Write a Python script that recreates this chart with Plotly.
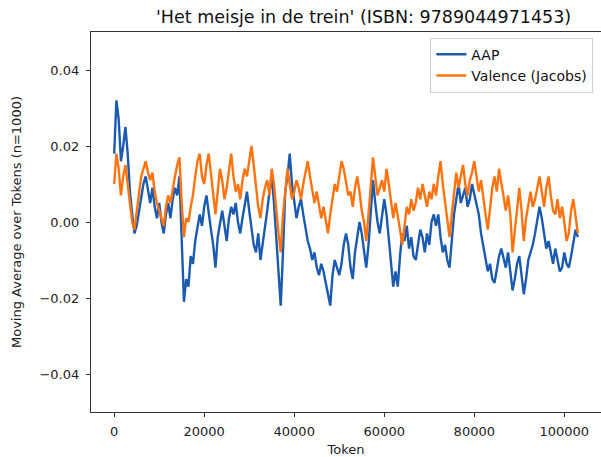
import plotly.graph_objects as go

TOKEN_STEP = 500  # tokens between successive samples

# Moving average values (x 0.001), sampled every 500 tokens from 0 to 103000
aap_milli = [
    18, 32, 27, 16, 20, 25, 18, 8, 2, -3,
    -1, 3, 6, 10, 12, 8, 5, 9, 4, 1,
    5, 0, -3, 2, 5, 1, 6, 9, 7, 12,
    -5, -21, -15, -17, -9, -11, -5, -2, 2, -1,
    4, 7, 2, -2, -6, -12, -4, 0, 3, -1,
    -5, 1, 4, 2, 5, 0, -3, 1, 5, 8,
    3, -2, -6, -8, -3, -10, -6, -1, 3, 8,
    12, 5, -5, -15, -22, -8, 8, 12, 18, 10,
    5, 1, 4, 6, 2, -2, -5, -7, -10, -8,
    -12, -14, -11, -13, -16, -18, -22, -14, -10, -12,
    -14, -11, -6, -3, -6, -12, -15, -8, -4, 0,
    -3, -8, -12, -6, 3, 11, 5, 0, -3, 2,
    6, 2, -5, -12, -17, -13, -17, -9, -3, -5,
    -1, -7, -4, -9, -10, -6, -2, -4, -8, -3,
    -6, 0, 2, -1, 2, -4, -8, -6, -10, -12,
    -5, 2, 6, 10, 5, 7, 9, 4, 6, 10,
    7, 5, 2, -3, -6, -10, -13, -11, -15, -16,
    -12, -9, -7, -10, -12, -8, -13, -18, -15, -11,
    -9, -14, -19, -15, -10, -8, -6, -3, 0, 4,
    1, -3, -7, -5, -8, -11, -7, -10, -13, -12,
    -8, -11, -12, -9, -5, -2, -4,
]

valence_milli = [
    10, 18, 14, 7, 12, 15, 10, 4, 0, -2,
    3, 8, 12, 14, 16, 13, 11, 13, 8, 5,
    3, 1, -1, 4, 7, 5, 9, 12, 15, 17,
    5, -4, 1, 0, 4, 7, 12, 16, 18, 12,
    10, 15, 18, 12, 7, 2, 8, 14, 11, 6,
    9, 14, 18, 12, 8, 10, 6, 11, 14, 12,
    16, 20, 15, 9, 4, 1, 6, 9, 11, 7,
    14, 10, 3, -3, -8, 2, 8, 14, 10, 6,
    8, 11, 9, 6, 10, 13, 16, 12, 9, 5,
    8, 4, 1, 4, 0, -3, 2, 6, 10, 8,
    12, 16, 14, 10, 7, 8, 4, 9, 12, 8,
    3, 0, -5, 2, 10, 17, 12, 7, 9, 11,
    8, 14, 10, 5, 1, 5, 2, -2, -6, 0,
    4, 2, 6, 3, 5, 9, 6, 10, 7, 4,
    8, 6, 10, 7, 12, 16, 10, 5, 1, -4,
    2, 8, 13, 9, 12, 15, 10, 7, 11, 13,
    16, 12, 8, 11, 6, 2, -2, 4, 9, 12,
    8, 14, 10, 6, 3, 7, 2, -8, -2, 4,
    9, 3, -5, 1, 5, 8, 4, 6, 9, 12,
    8, 4, 9, 12, 7, 3, 2, 6, 1, 4,
    0, -5, -3, 3, 6, 2, -3,
]

tokens = [i * TOKEN_STEP for i in range(len(aap_milli))]
aap = [v / 1000 for v in aap_milli]
valence = [v / 1000 for v in valence_milli]

y_ticks = [-0.04, -0.02, 0.0, 0.02, 0.04]
y_tick_labels = ["\u22120.04", "\u22120.02", "0.00", "0.02", "0.04"]
x_ticks = [0, 20000, 40000, 60000, 80000, 100000]
x_tick_labels = ["0", "20000", "40000", "60000", "80000", "100000"]

title_text = "'Het meisje in de trein' (ISBN: 9789044971453)"

fig = go.Figure()
fig.add_trace(go.Scatter(x=tokens, y=aap, mode="lines", name="AAP", legendgroup="a",
                         line=dict(color="#1a5bb0", width=2.4)))
fig.add_trace(go.Scatter(x=tokens, y=valence, mode="lines", name="Valence (Jacobs)",
                         legendgroup="b", line=dict(color="#ff7410", width=2.4)))

font_family = "DejaVu Sans"
fig.update_layout(
    width=601, height=457,
    margin=dict(l=91, r=0, t=32, b=45, autoexpand=False),
    paper_bgcolor="white", plot_bgcolor="white",
    font=dict(family=font_family, size=13, color="#222"),
    title=dict(text=title_text, x=0.605, xanchor="center", y=0.962, yanchor="middle",
               font=dict(size=17.5, color="#111")),
    showlegend=True,
    legend=dict(x=0.985, y=0.985, xanchor="right", yanchor="top",
                bgcolor="rgba(255,255,255,0.85)", bordercolor="#d0d0d0", borderwidth=1,
                font=dict(size=14, color="#111"), tracegroupgap=0),
)
fig.update_xaxes(range=[-5150, 108150], tickvals=x_ticks, ticktext=x_tick_labels,
                 automargin=False, ticklabelstandoff=3,
                 showgrid=False, zeroline=False, showline=True, linecolor="#333",
                 linewidth=1.3, mirror=True, ticks="outside", ticklen=4,
                 tickcolor="#333", tickfont=dict(size=13),
                 title=dict(text="Token", font=dict(size=13), standoff=8))
fig.update_yaxes(range=[-0.05, 0.05], tickvals=y_ticks, ticktext=y_tick_labels,
                 automargin=False, ticklabelstandoff=4,
                 showgrid=False, zeroline=False, showline=True, linecolor="#333",
                 linewidth=1.3, mirror=True, ticks="outside", ticklen=4,
                 tickcolor="#333", tickfont=dict(size=13),
                 title=dict(text="Moving Average over Tokens (n=1000)", font=dict(size=13),
                            standoff=14))

fig.write_html("out.html", config={"displayModeBar": False},
               post_script="document.body.style.margin='0';")
